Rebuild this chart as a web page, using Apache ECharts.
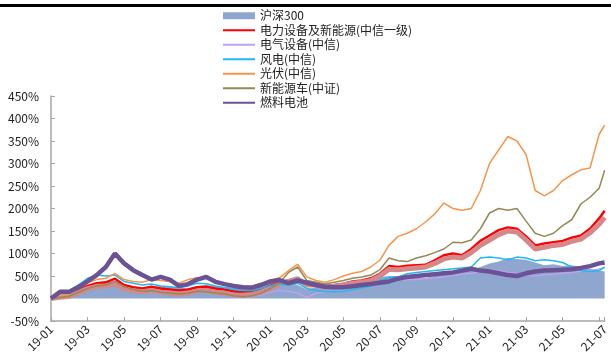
<!DOCTYPE html>
<html>
<head>
<meta charset="utf-8">
<script src="https://cdn.jsdelivr.net/npm/echarts@6/dist/echarts.min.js"></script>
<style>
  html, body { margin: 0; padding: 0; background: #fff; }
  #chart { width: 611px; height: 362px; }
</style>
</head>
<body>
<div id="chart"></div>
<script>
// Months elapsed since 2019-01-01 for each sample
const months = [0,0.5,1,1.5,2,2.5,3,3.5,4,4.5,5,5.5,6,6.5,7,7.5,8,8.5,9,9.5,10,10.5,11,11.5,12,12.5,13,13.5,14,14.5,15,15.5,16,16.5,17,17.5,18,18.5,19,19.5,20,20.5,21,21.5,22,22.5,23,23.5,24,24.5,25,25.5,26,26.5,27,27.5,28,28.5,29,29.5,30,30.3];

// Cumulative return (%) of each index
const hs300 = [0,5,8,20,27,33,35,40,28,22,22,25,28,26,24,22,28,30,27,26,28,29,29,33,38,36,35,30,20,25,26,29,30,36,40,44,48,50,50,48,47,46,50,52,55,60,64,70,78,82,90,88,86,80,74,76,72,74,70,66,62,60];
const elecNew = [0,5,8,18,28,34,36,44,30,25,22,26,22,20,18,20,25,26,22,20,16,14,16,20,28,36,40,42,32,34,28,30,33,38,40,45,55,72,70,73,74,75,85,96,100,96,110,128,140,152,158,155,138,118,122,125,128,135,140,155,178,195];
const elecEquip = [0,4,6,14,22,28,30,36,24,18,16,18,14,12,10,10,14,14,10,8,5,3,4,8,14,18,16,12,2,12,14,16,18,22,25,30,38,42,40,42,42,44,46,48,52,54,56,60,64,62,58,56,52,50,52,54,56,58,60,62,66,68];
const wind = [0,10,18,30,45,52,50,52,38,34,30,32,28,26,24,28,34,33,28,24,20,18,18,22,28,32,30,34,22,18,15,15,16,20,24,28,40,46,48,55,58,60,62,64,66,68,70,90,92,90,86,92,90,84,86,84,80,70,62,60,62,70];
const solar = [0,6,10,22,35,42,45,56,42,38,36,42,40,38,34,42,46,45,40,34,28,25,28,34,40,46,62,76,48,40,36,42,50,56,60,70,85,118,138,145,155,170,188,212,200,196,200,240,300,330,360,350,320,240,228,240,262,275,286,290,365,385];
const nev = [0,3,5,14,22,28,30,38,26,20,16,18,14,12,10,12,16,15,12,10,6,4,6,12,22,35,58,70,40,36,32,36,40,45,48,52,64,90,84,82,90,95,102,110,125,124,130,155,190,200,196,200,172,145,138,145,162,175,210,225,245,285];
const fuelCell = [0,15,15,25,38,52,70,100,78,63,52,42,48,42,28,32,42,48,37,32,28,25,24,30,38,41,34,40,35,30,26,25,25,27,30,32,35,38,44,48,50,52,54,56,58,62,66,62,60,56,52,50,56,60,62,63,64,65,68,72,78,80];
const extraIdx = [0,3,5,13,22,27,28,32,22,17,15,18,14,12,10,12,17,18,14,12,8,7,9,14,22,32,38,44,30,30,25,27,30,34,36,40,50,65,64,66,68,70,78,88,92,90,102,118,130,142,150,148,130,110,114,118,120,127,132,146,165,180];

const pair = arr => months.map((m, i) => [m, arr[i]]);

const FONT = '"Noto Sans CJK SC", "Microsoft YaHei", sans-serif';

function lineSeries(name, data, color, width) {
  return {
    name, type: 'line', data: pair(data), symbol: 'none',
    lineStyle: { color, width }, itemStyle: { color },
    emphasis: { disabled: true }
  };
}

const chart = echarts.init(document.getElementById('chart'), null, { renderer: 'canvas' });

chart.setOption({
  animation: false,
  backgroundColor: '#ffffff',
  graphic: [{
    type: 'rect', shape: { x: 0, y: 4, width: 611, height: 3 },
    style: { fill: '#000000' }, z: 100
  }],
  grid: { left: 51, right: 0, top: 96, bottom: 41, containLabel: false },
  legend: {
    orient: 'vertical', left: 217, top: 4,
    itemWidth: 32, itemHeight: 7, itemGap: 1,
    // line entries show only the stroke, no marker dot
    itemStyle: { opacity: 0 },
    textStyle: { fontFamily: FONT, fontSize: 12, color: '#222', lineHeight: 13.5 },
    data: [
      { name: '沪深300', icon: 'rect', itemStyle: { opacity: 1, color: '#8fa6cf' } },
      '电力设备及新能源(中信一级)', '电气设备(中信)', '风电(中信)', '光伏(中信)', '新能源车(中证)', '燃料电池'
    ]
  },
  xAxis: [{
    type: 'value', min: 0, max: 30.3, interval: 2,
    axisLine: { show: false }, axisTick: { show: false }, splitLine: { show: false },
    axisLabel: {
      rotate: 45, margin: 6, fontFamily: FONT, fontSize: 12, color: '#222',
      showMaxLabel: true,
      formatter: v => {
        const m = Math.round(v);
        const y = 19 + Math.floor(m / 12);
        const mo = (m % 12) + 1;
        return y + '-' + (mo < 10 ? '0' + mo : mo);
      }
    }
  }, {
    type: 'value', min: 0, max: 30.3, interval: 2, position: 'bottom',
    axisLine: { show: true, onZero: true, lineStyle: { color: '#a6a6a6', width: 1.5 } },
    axisTick: { show: true, inside: true, length: 4, lineStyle: { color: '#a6a6a6' } },
    axisLabel: { show: false }, splitLine: { show: false }
  }],
  yAxis: {
    type: 'value', min: -50, max: 450, interval: 50,
    axisLine: { show: true, lineStyle: { color: '#a6a6a6', width: 1.5 } },
    axisTick: { show: true, inside: true, length: 4, lineStyle: { color: '#a6a6a6' } },
    splitLine: { show: false },
    axisLabel: { margin: 12, fontFamily: FONT, fontSize: 12, color: '#222', formatter: '{value}%' }
  },
  series: [
    {
      name: '沪深300', type: 'line', data: pair(hs300), symbol: 'none',
      lineStyle: { width: 0 }, itemStyle: { color: '#8fa6cf' },
      areaStyle: { color: '#8fa6cf', opacity: 1 }, emphasis: { disabled: true }
    },
    lineSeries('电力设备及新能源(中信一级)', elecNew, '#ff0000', 2.5),
    lineSeries('电气设备(中信)', elecEquip, '#c6a0f0', 1.2),
    lineSeries('储能', extraIdx, '#d4888a', 5),
    lineSeries('风电(中信)', wind, '#1fb8f0', 1.5),
    lineSeries('光伏(中信)', solar, '#f7964a', 1.5),
    lineSeries('新能源车(中证)', nev, '#938a58', 1.5),
    lineSeries('燃料电池', fuelCell, '#6a5294', 4.5)
  ]
});
</script>
</body>
</html>
